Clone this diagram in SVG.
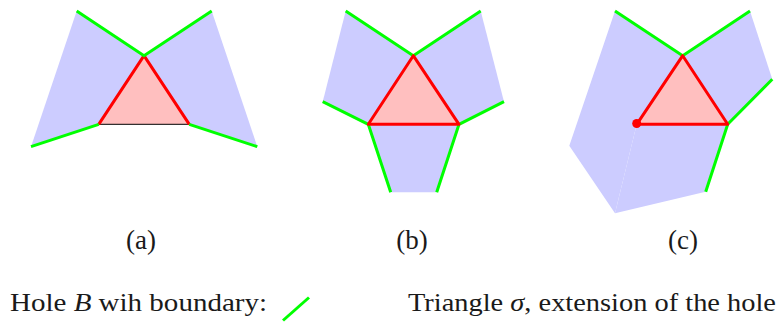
<svg xmlns="http://www.w3.org/2000/svg" width="777" height="322" viewBox="0 0 777 322">
<style>
.hole{fill:#ccccff;stroke:none}
.tri{fill:#ffbfbf;stroke:none}
.g{stroke:#00ff00;stroke-width:3;fill:none;stroke-linecap:butt}
.r{stroke:#ff0000;stroke-width:3;fill:none;stroke-linejoin:round}
.k{stroke:#000;stroke-width:1;fill:none}
.t{font-family:"Liberation Serif","DejaVu Serif",serif;font-size:26px;fill:#1a1a1a}
.lab{font-size:27px}
.i{font-style:italic}
</style>
<rect width="777" height="322" fill="#fff"/>
<g id="fig-a">
<polygon class="hole" points="76.7,11 144,55.7 98.7,124.3 31,146.7"/>
<polygon class="hole" points="211.7,11 257.3,146.7 189.3,124.3 144,55.7"/>
<polygon class="tri" points="98.7,124.3 144,55.7 189.3,124.3"/>
<line class="k" x1="98.7" y1="124.3" x2="189.3" y2="124.3"/>
<polyline class="r" points="98.7,124.3 144,55.7 189.3,124.3"/>
<g class="g">
<polyline points="76.7,11 144,55.7 211.7,11"/>
<line x1="31" y1="146.7" x2="98.7" y2="124.3"/>
<line x1="189.3" y1="124.3" x2="257.3" y2="146.7"/>
</g>
<text class="t lab" x="141" y="249" text-anchor="middle">(a)</text>
</g>
<g id="fig-b">
<polygon class="hole" points="345.7,11 413.3,55.7 368.3,124.3 322.7,101.7"/>
<polygon class="hole" points="480.7,11 504,101.7 459,124.3 413.3,55.7"/>
<polygon class="hole" points="368.3,124.3 459,124.3 436.7,192.3 390.7,192.3"/>
<polygon class="tri" points="368.3,124.3 413.3,55.7 459,124.3"/>
<g class="g">
<polyline points="345.7,11 413.3,55.7 480.7,11"/>
<polyline points="322.7,101.7 368.3,124.3 390.7,192.3"/>
<polyline points="504,101.7 459,124.3 436.7,192.3"/>
</g>
<polygon class="r" points="368.3,124.3 413.3,55.7 459,124.3"/>
<text class="t lab" x="412" y="249" text-anchor="middle">(b)</text>
</g>
<g id="fig-c">
<polygon class="hole" points="615,11 682.7,55.7 636.7,124.3 615,213.3 569.3,145.7"/>
<polygon class="hole" points="636.7,124.3 727.7,124.3 705.7,191.7 615,213.3"/>
<polygon class="hole" points="750,11 772.3,79.3 727.7,124.3 682.7,55.7"/>
<polygon class="tri" points="636.7,124.3 682.7,55.7 727.7,124.3"/>
<g class="g">
<polyline points="615,11 682.7,55.7 750,11"/>
<polyline points="772.3,79.3 727.7,124.3 705.7,191.7"/>
</g>
<polygon class="r" points="636.7,124.3 682.7,55.7 727.7,124.3"/>
<circle cx="636.7" cy="123.5" r="4.5" fill="#ff0000"/>
<text class="t lab" x="683" y="249" text-anchor="middle">(c)</text>
</g>
<g id="legend">
<text class="t" x="10" y="311" textLength="257" lengthAdjust="spacingAndGlyphs">Hole <tspan class="i">B</tspan> wih boundary:</text>
<line class="g" x1="283" y1="320.5" x2="309" y2="297.5"/>
<text class="t" x="408" y="311" textLength="368" lengthAdjust="spacingAndGlyphs">Triangle <tspan class="i">σ</tspan>, extension of the hole</text>
</g>
</svg>
